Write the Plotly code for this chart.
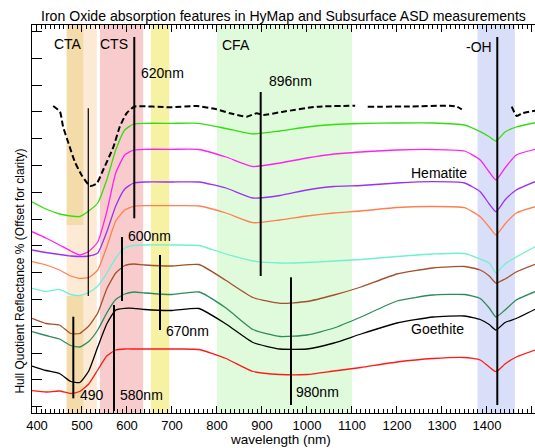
import plotly.graph_objects as go

FONT = "Liberation Sans, Arial, sans-serif"

# wavelength grid (nm) for the solid spectra
WL = [389, 420, 450, 475, 495, 515, 535, 555, 575, 595, 615, 640, 700, 760, 820,
      880, 940, 1000, 1060, 1120, 1200, 1280, 1350, 1385, 1405, 1420, 1440, 1465, 1507]

# hull quotient reflectance, offset for clarity (arbitrary units)
GREEN = [2.113, 2.04, 1.99, 1.97, 1.965, 2.02, 2.10, 2.33, 2.63, 2.83, 2.89, 2.897, 2.897, 2.897, 2.845,
         2.79, 2.82, 2.86, 2.885, 2.895, 2.90, 2.90, 2.88, 2.813, 2.763, 2.72, 2.81, 2.86, 2.903]
MAGENTA = [1.813, 1.75, 1.68, 1.62, 1.58, 1.615, 1.71, 2.01, 2.40, 2.58, 2.63, 2.637, 2.637, 2.635, 2.56,
           2.465, 2.50, 2.55, 2.59, 2.61, 2.63, 2.635, 2.62, 2.53, 2.41, 2.33, 2.45, 2.58, 2.637]
PURPLE = [1.63, 1.605, 1.585, 1.57, 1.565, 1.57, 1.60, 1.81, 2.07, 2.24, 2.30, 2.31, 2.31, 2.31, 2.25,
          2.15, 2.175, 2.23, 2.265, 2.275, 2.30, 2.313, 2.30, 2.213, 2.09, 2.013, 2.13, 2.23, 2.313]
ORANGE = [1.513, 1.48, 1.43, 1.37, 1.347, 1.355, 1.43, 1.66, 1.92, 2.03, 2.067, 2.073, 2.073, 2.07, 2.00,
          1.903, 1.93, 1.97, 2.00, 2.02, 2.055, 2.065, 2.053, 1.963, 1.86, 1.78, 1.89, 2.00, 2.063]
AQUA = [1.247, 1.215, 1.237, 1.185, 1.175, 1.205, 1.27, 1.397, 1.55, 1.65, 1.675, 1.68, 1.68, 1.675, 1.59,
        1.52, 1.50, 1.505, 1.52, 1.535, 1.565, 1.59, 1.595, 1.54, 1.50, 1.40, 1.49, 1.56, 1.663]
BROWN = [0.947, 0.895, 0.88, 0.795, 0.795, 0.87, 1.00, 1.24, 1.40, 1.475, 1.49, 1.48, 1.47, 1.485, 1.325,
         1.155, 1.097, 1.115, 1.18, 1.26, 1.39, 1.45, 1.465, 1.43, 1.37, 1.30, 1.34, 1.41, 1.487]
SEAGREEN = [0.813, 0.775, 0.74, 0.675, 0.66, 0.715, 0.83, 1.00, 1.135, 1.19, 1.21, 1.20, 1.185, 1.21, 1.05,
            0.835, 0.765, 0.78, 0.85, 0.96, 1.12, 1.18, 1.185, 1.145, 1.05, 0.96, 1.03, 1.13, 1.213]
BLACK = [0.47, 0.425, 0.395, 0.315, 0.305, 0.42, 0.66, 0.89, 1.03, 1.047, 1.047, 1.035, 1.025, 1.045, 0.89,
         0.705, 0.64, 0.64, 0.70, 0.79, 0.90, 0.96, 0.97, 0.935, 0.885, 0.83, 0.905, 0.945, 1.037]
RED = [0.223, 0.21, 0.22, 0.195, 0.215, 0.29, 0.43, 0.57, 0.63, 0.64, 0.64, 0.64, 0.64, 0.635, 0.545,
       0.415, 0.385, 0.385, 0.42, 0.455, 0.51, 0.545, 0.555, 0.53, 0.46, 0.413, 0.49, 0.56, 0.63]

SERIES = [GREEN, MAGENTA, PURPLE, ORANGE, AQUA, BROWN, SEAGREEN, BLACK, RED]
COLORS = ["#33dd11", "#ff22ee", "#9933ee", "#ff7f4f", "#70f0d0", "#a0522d", "#2e8b57", "#000000", "#ff1a1a"]

# HyMap spectrum (dashed, with gaps)
DASH_WL = [436, 451, 458, 470, 484, 499, 518, 533, 547, 570, 584, 599, 616, 696, 755, 799, 829, 866, 888,
           903, 947, 1022, 1107, 1120, 1135, 1229, 1318, 1333, 1344, 1400, 1455, 1466, 1480, 1507]
DASH_VAL = [3.07, 3.013, 2.863, 2.697, 2.513, 2.38, 2.27, 2.297, 2.43, 2.663, 2.863, 2.997, 3.063, 3.057,
            3.07, 3.037, 2.997, 2.963, 2.997, 2.98, 3.013, 3.063, 3.073, None, 3.063, 3.065, 3.073, 3.063,
            3.037, None, 3.063, 2.97, 3.00, 3.023]

# absorption feature markers
FEATURE_NM = [616.2, 1422.9, 897.1, 480.7, 571.1, 588.9, 673.3, 514.0, 964.4]
FEATURE_TOP = [3.76, 3.76, 3.21, 0.963, 1.08, 1.76, 1.58, 3.047, 1.357]
FEATURE_BOT = [1.947, 0.08, 1.37, 0.147, 0.02, 1.12, 0.83, 1.17, 0.08]
FEATURE_WIDTH = [2, 2, 2, 2, 2, 2, 2, 1.2, 2]

# shaded wavelength regions
BAND_START = [466, 540, 653, 800, 1379]
BAND_END = [533, 636, 694, 1100, 1462]
BAND_COLOR = ["#fdead4", "#f8cccc", "#f6f1a3", "#e0fadc", "#d9dff8"]
# darker CTA sub-band (two vertical parts)
CTA_START, CTA_END = 466, 503
CTA_Y = [(1.88, 3.88), (0.0, 1.17)]

LABELS = ["CTA", "CTS", "CFA", "-OH", "620nm", "896nm", "Hematite", "600nm", "670nm", "490", "580nm",
          "980nm", "Goethite"]
LABEL_X = [467.8, 571.1, 843.3, 1382, 677.8, 964.4, 1293, 648.9, 735.5, 523.3, 632.7, 1024.4, 1290]
LABEL_Y = [3.69, 3.69, 3.68, 3.66, 3.40, 3.32, 2.405, 1.77, 0.82, 0.18, 0.18, 0.21, 0.84]

fig = go.Figure()

shapes = []
for s, e, c in zip(BAND_START, BAND_END, BAND_COLOR):
    shapes.append(dict(type="rect", xref="x", yref="paper", x0=s, x1=e, y0=0, y1=1,
                       fillcolor=c, line_width=0, layer="below"))
for y0, y1 in CTA_Y:
    shapes.append(dict(type="rect", xref="x", yref="y", x0=CTA_START, x1=CTA_END, y0=y0, y1=y1,
                       fillcolor="#f4dcaa", line_width=0, layer="below"))

fig.add_trace(go.Scatter(x=DASH_WL, y=DASH_VAL, mode="lines", connectgaps=False,
                         line=dict(color="black", width=2, dash="6px,3px", shape="spline", smoothing=0.5),
                         showlegend=False, hoverinfo="skip"))

for vals, col in zip(SERIES, COLORS):
    fig.add_trace(go.Scatter(x=WL, y=vals, mode="lines",
                             line=dict(color=col, width=1.3, shape="spline", smoothing=0.5),
                             showlegend=False, hoverinfo="skip"))

for nm, top, bot, w in zip(FEATURE_NM, FEATURE_TOP, FEATURE_BOT, FEATURE_WIDTH):
    fig.add_trace(go.Scatter(x=[nm, nm], y=[bot, top], mode="lines",
                             line=dict(color="black", width=w), showlegend=False, hoverinfo="skip"))

annotations = []
for t, x, y in zip(LABELS, LABEL_X, LABEL_Y):
    annotations.append(dict(text=t, x=x, y=y, xref="x", yref="y", showarrow=False,
                            font=dict(family=FONT, size=14, color="black"),
                            xanchor="center", yanchor="middle"))
annotations.append(dict(text="Iron Oxide absorption features in HyMap and Subsurface ASD measurements",
                        x=0.5, y=1.022, xref="paper", yref="paper", showarrow=False,
                        font=dict(family=FONT, size=14.1, color="black"),
                        xanchor="center", yanchor="middle"))
annotations.append(dict(text="wavelength (nm)", x=0.494, y=-0.068, xref="paper", yref="paper",
                        showarrow=False, font=dict(family=FONT, size=13.5, color="black"),
                        xanchor="center", yanchor="middle"))
annotations.append(dict(text="Hull Quotient Reflectance % (Offset for clarity)", x=-0.0239, y=0.367,
                        xref="paper", yref="paper", showarrow=False, textangle=-90,
                        font=dict(family=FONT, size=12, color="black"),
                        xanchor="center", yanchor="middle"))

YR = [0, 3.88]
fig.update_layout(
    width=535, height=448,
    margin=dict(l=32, r=0, t=25, b=35),
    paper_bgcolor="white", plot_bgcolor="white",
    shapes=shapes, annotations=annotations,
    xaxis=dict(range=[388.9, 1506.7], tick0=400, dtick=100, ticks="inside", ticklen=7,
               tickwidth=1, tickcolor="black", showline=True, linecolor="black", linewidth=1.2,
               mirror="ticks", showgrid=False, zeroline=False,
               tickfont=dict(family=FONT, size=13, color="black"),
               minor=dict(dtick=10, ticks="inside", ticklen=4, tickcolor="black", tickwidth=1,
                          showgrid=False)),
    yaxis=dict(range=YR, tick0=0.064, dtick=0.268, ticks="inside", ticklen=10, tickwidth=1.2,
               tickcolor="black", showticklabels=False, showline=True, linecolor="black",
               linewidth=1.2, showgrid=False, zeroline=False),
    yaxis2=dict(range=YR, overlaying="y", side="right", tick0=0.064, dtick=0.268, ticks="inside",
                ticklen=10, tickwidth=1.2, tickcolor="black", showticklabels=False, showline=False,
                showgrid=False, zeroline=False),
)

fig.write_html("out.html")
